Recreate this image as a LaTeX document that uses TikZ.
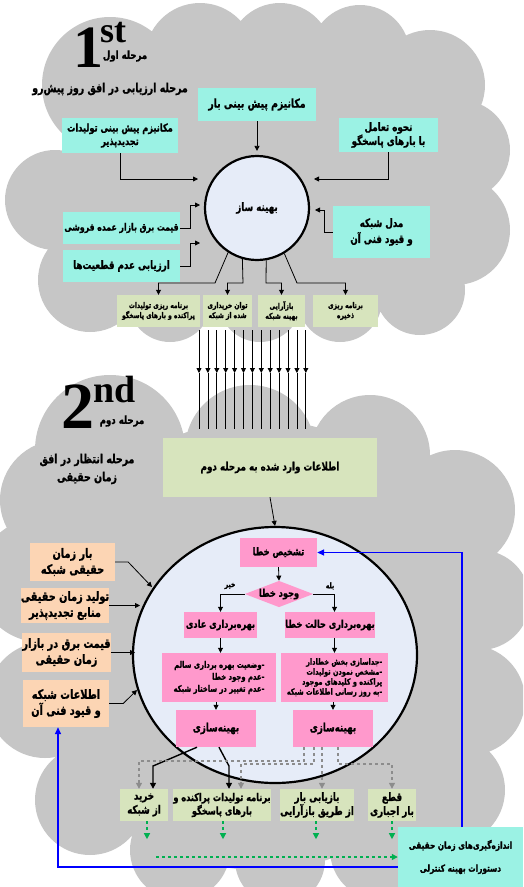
\documentclass[tikz,border=0pt]{standalone}
\usepackage{fontspec}
\setmainfont{Liberation Serif}
\newfontfamily\arabicfont[Script=Arabic, FakeStretch=0.76, FakeBold=1.1]{DejaVu Sans}
\TeXXeTstate=1
\usetikzlibrary{shapes.geometric,arrows.meta}
\newcommand\fa[1]{\beginR #1\endR}
\definecolor{cloudgray}{RGB}{198,198,198}
\definecolor{cyanbox}{RGB}{155,242,228}
\definecolor{greenbox}{RGB}{215,228,189}
\definecolor{pinkbox}{RGB}{255,153,204}
\definecolor{peachbox}{RGB}{252,213,180}
\definecolor{circfill}{RGB}{230,236,248}
\definecolor{arrowgreen}{RGB}{0,176,80}
\definecolor{dashgray}{RGB}{140,140,140}
\tikzset{
  base/.style={inner sep=0pt, align=center, font=\arabicfont\bfseries\fontsize{10.8}{13.5}\selectfont},
  sm/.style={font=\arabicfont\bfseries\fontsize{7.9}{10}\selectfont},
  lst/.style={font=\arabicfont\bfseries\fontsize{9}{12}\selectfont, align=right},
  big/.style={font=\arabicfont\bfseries\fontsize{11.5}{14}\selectfont},
  cy/.style={base, fill=cyanbox},
  gr/.style={base, fill=greenbox},
  pk/.style={base, fill=pinkbox},
  pc/.style={base, fill=peachbox, font=\arabicfont\bfseries\fontsize{12.8}{16}\selectfont},
  lbl/.style={inner sep=0pt, align=center, font=\arabicfont\bfseries\fontsize{11.3}{16}\selectfont},
  arr/.style={-{Triangle[length=5pt,width=5pt]}, line width=0.8pt},
  tarr/.style={-{Triangle[length=6pt,width=6pt]}, line width=1.4pt},
  garr/.style={-{Triangle[length=6pt,width=6pt]}, line width=1.2pt, dashgray, dashed},
  grarr/.style={-{Triangle[length=6pt,width=6pt]}, line width=1.2pt, arrowgreen, dashed},
  barr/.style={-{Triangle[length=7pt,width=6pt]}, line width=1.5pt, blue},
}
\begin{document}
\begin{tikzpicture}[x=1pt,y=-1pt]
\useasboundingbox (0,0) rectangle (523,887);
% clouds
\begin{scope}
\clip (0,0) rectangle (523,887);
\fill[cloudgray] (110,85) circle[radius=68] (200,58) circle[radius=55] (280,55) circle[radius=52]
  (360,55) circle[radius=50] (430,85) circle[radius=55] (460,150) circle[radius=50]
  (455,230) circle[radius=55] (420,290) circle[radius=45] (340,300) circle[radius=42]
  (260,300) circle[radius=42] (170,300) circle[radius=42] (90,280) circle[radius=52]
  (55,200) circle[radius=50] (260,180) ellipse[x radius=200, y radius=125];
\fill[cloudgray] (110,450) circle[radius=75] (250,450) circle[radius=65] (370,455) circle[radius=60]
  (455,510) circle[radius=60] (480,600) circle[radius=50] (470,700) circle[radius=55]
  (450,790) circle[radius=55] (380,850) circle[radius=50] (280,860) circle[radius=45]
  (180,850) circle[radius=50] (90,800) circle[radius=55] (45,700) circle[radius=58]
  (40,580) circle[radius=62] (60,500) circle[radius=60] (260,645) ellipse[x radius=225, y radius=225];
\end{scope}

% stage 1 titles
\node[font=\bfseries\fontsize{60}{60}\selectfont, anchor=base, inner sep=0] (one) at (88,67) {1};
\node[font=\bfseries\fontsize{36}{36}\selectfont, anchor=base west, inner sep=0] (st) at (100,42) {st};
\node[lbl] (s1) at (125,56) {\fa{مرحله اول}};
\node[lbl, font=\arabicfont\bfseries\fontsize{12.4}{14}\selectfont] (t1) at (110,89) {\fa{مرحله ارزیابی در افق روز پیش‌رو}};

% stage 1 boxes
\node[cy, big, font=\arabicfont\bfseries\fontsize{12.2}{14}\selectfont, minimum width=118, minimum height=33] (b1) at (257,104.5) {\fa{مکانیزم پیش بینی بار}};
\node[cy, minimum width=116, minimum height=35] (b2) at (120,135.5) {\fa{مکانیزم پیش بینی تولیدات}\\\fa{تجدیدپذیر}};
\node[cy, big, minimum width=99, minimum height=34] (b3) at (388.5,135) {\fa{نحوه تعامل}\\\fa{با بارهای پاسخگو}};
\node[cy, font=\arabicfont\bfseries\fontsize{10.2}{13}\selectfont, minimum width=117, minimum height=32] (b4) at (121.5,228) {\fa{قیمت برق بازار عمده فروشی}};
\node[cy, big, minimum width=117, minimum height=32] (b5) at (121.5,266) {\fa{ارزیابی عدم قطعیت‌ها}};
\node[cy, big, minimum width=97, minimum height=52, font=\arabicfont\bfseries\fontsize{11.5}{16}\selectfont] (b6) at (381.5,232) {\fa{مدل شبکه}\\\fa{و قیود فنی آن}};
\node[base, big, circle, draw, line width=2.2pt, fill=circfill, minimum size=104] (opt) at (257,208) {\fa{بهینه ساز}};

\node[gr, sm, minimum width=83, minimum height=32] (o1) at (158.5,311) {\fa{برنامه ریزی تولیدات}\\\fa{پراکنده و بارهای پاسخگو}};
\node[gr, sm, minimum width=49, minimum height=32] (o2) at (227.5,311) {\fa{توان خریداری}\\\fa{شده از شبکه}};
\node[gr, sm, minimum width=47, minimum height=32] (o3) at (281.5,311) {\fa{بازآرایی}\\\fa{بهینه شبکه}};
\node[gr, sm, minimum width=65, minimum height=32] (o4) at (345.5,311) {\fa{برنامه ریزی}\\\fa{ذخیره}};

% stage 1 connectors
\coordinate (e2) at (198,179);
\coordinate (e3) at (314,179);
\coordinate (e4) at (200,205);
\coordinate (e5) at (200,243);
\coordinate (e6) at (315,210);
\draw[arr, shorten >=4pt] (b1.south) -- (opt.north);
\draw[arr] (b2.south) |- (e2);
\draw[arr] (b3.south) |- (e3);
\draw[arr] (b4.east) -- ++(10,0) |- (e4);
\draw[arr] (b5.east) -- ++(10,0) |- (e5);
\draw[arr] (b6.west) -- ++(-8,0) |- (e6);
\coordinate (k1) at (215,283);
\coordinate (k2) at (243,283);
\coordinate (k3) at (266,283);
\coordinate (k4) at (297,283);
\draw[arr] (opt.237) -- (k1) -| (o1.north);
\draw[arr] (opt.254) -- (k2) -| (o2.north);
\draw[arr] (opt.280) -- (k3) -| (o3.north);
\draw[arr] (opt.301) -- (k4) -| (o4.north);

% bundle
\foreach \i in {0,...,12} {
  \draw[arr] ({199+8.9*\i},330) -- ({199+8.9*\i},373);
  \draw[line width=0.8pt] ({199+8.9*\i},373) -- ({199+8.9*\i},429);
}

% stage 2 titles
\node[font=\bfseries\fontsize{66}{66}\selectfont, anchor=base, inner sep=0] (two) at (78,428) {2};
\node[font=\bfseries\fontsize{38}{38}\selectfont, anchor=base west, inner sep=0] (nd) at (93,402) {nd};
\node[lbl] (s2) at (122,421) {\fa{مرحله دوم}};
\node[lbl, font=\arabicfont\bfseries\fontsize{12.4}{18}\selectfont] (t2) at (87,469) {\fa{مرحله انتظار در افق}\\\fa{زمان حقیقی}};

\node[gr, big, minimum width=214, minimum height=59] (info) at (270,467.5) {\fa{اطلاعات وارد شده به مرحله دوم}};

\node[ellipse, draw, line width=2.2pt, fill=circfill, minimum width=284, minimum height=256, inner sep=0] (big) at (275,655) {};
\draw[arr] (info.south) -- (big.north);

\node[pk, minimum width=77, minimum height=29] (diag) at (278.5,552.5) {\fa{تشخیص خطا}};
\node[base, diamond, fill=pinkbox, shape aspect=2.6, minimum width=68, minimum height=26] (dia) at (279,594) {\fa{وجود خطا}};
\node[pk, minimum width=73, minimum height=26] (normal) at (220.5,625) {\fa{بهره‌برداری عادی}};
\node[pk, minimum width=80, minimum height=26] (fault) at (330,625) {\fa{بهره‌برداری حالت خطا}};
\node[pk, lst, minimum width=114, minimum height=49] (listL) at (219,677.5) {\fa{-وضعیت بهره برداری سالم}\\\fa{-عدم وجود خطا}\\\fa{-عدم تغییر در ساختار شبکه}};
\node[pk, lst, font=\arabicfont\bfseries\fontsize{8.6}{10}\selectfont, minimum width=107, minimum height=49] (listR) at (334.5,677.5) {\fa{-جداسازی بخش خطادار}\\\fa{-مشخص نمودن تولیدات}\\\fa{پراکنده و کلیدهای موجود}\\\fa{-به روز رسانی اطلاعات شبکه}};
\node[pk, big, minimum width=80, minimum height=37] (optL) at (216,728.5) {\fa{بهینه‌سازی}};
\node[pk, big, minimum width=80, minimum height=37] (optR) at (333,728.5) {\fa{بهینه‌سازی}};
\node[lbl, font=\arabicfont\bfseries\fontsize{8}{8}\selectfont] (no) at (230,586) {\fa{خیر}};
\node[lbl, font=\arabicfont\bfseries\fontsize{8}{8}\selectfont] (yes) at (330,586) {\fa{بله}};

\draw[arr] (diag.south) -- (dia.north);
\draw[arr] (dia.west) -| (normal.north);
\draw[arr] (dia.east) -| (listR.north |- fault.north);
\draw[arr] (normal.south) -- (listL.north -| normal.south);
\draw[arr] (listR.north |- fault.south) -- (listR.north);
\draw[arr] (optL.north |- listL.south) -- (optL.north);
\draw[arr] (optR.north |- listR.south) -- (optR.north);

% peach inputs
\node[pc, minimum width=85, minimum height=38] (p1) at (72.5,562) {\fa{بار زمان}\\\fa{حقیقی شبکه}};
\node[pc, minimum width=84, minimum height=35] (p2) at (65,605.5) {\fa{تولید زمان حقیقی}\\\fa{منابع تجدیدپذیر}};
\node[pc, minimum width=83, minimum height=39] (p3) at (66.5,652.5) {\fa{قیمت برق در بازار}\\\fa{زمان حقیقی}};
\node[pc, minimum width=86, minimum height=47] (p4) at (66,703.5) {\fa{اطلاعات شبکه}\\\fa{و قیود فنی آن}};
\coordinate (q1) at (152,587);
\coordinate (q2) at (140,605.5);
\coordinate (q3) at (135,652.5);
\coordinate (q4) at (137,690);
\draw[arr] (p1.east) -- ++(13,0) -- (q1);
\draw[arr] (p2.east) -- (q2);
\draw[arr] (p3.east) -- (q3);
\draw[arr] (p4.east) -- ++(14,0) -- (q4);

% bottom outputs
\node[gr, big, minimum width=48, minimum height=32] (g1) at (144,805) {\fa{خرید}\\\fa{از شبکه}};
\node[gr, minimum width=96, minimum height=32] (g2) at (222,805) {\fa{برنامه تولیدات پراکنده و}\\\fa{بارهای پاسخگو}};
\node[gr, big, minimum width=72, minimum height=32] (g3) at (317,805) {\fa{بازیابی بار}\\\fa{از طریق بازآرایی}};
\node[gr, big, minimum width=48, minimum height=32] (g4) at (392,805) {\fa{قطع}\\\fa{بار اجباری}};
\node[cy, minimum width=125, minimum height=60, font=\arabicfont\bfseries\fontsize{9.7}{11}\selectfont] (fin) at (460.5,857) {\fa{اندازه‌گیری‌های زمان حقیقی}\\[12pt]\fa{دستورات بهینه کنترلی}};

\coordinate (kb1) at (153,766);
\coordinate (kb2) at (229,766);
\draw[tarr] ([xshift=-19pt]optL.south) -- (kb1) -- (kb1 |- g1.north);
\draw[tarr] ([xshift=3pt]optL.south) -- (kb2) -- (kb2 |- g2.north);

\coordinate (gd1) at (139,761);
\coordinate (gd2) at (241,764);
\coordinate (gd4) at (392,764);
\draw[garr] ([xshift=-29pt]optR.south) |- (gd1) -- (gd1 |- g1.north);
\draw[garr] ([xshift=-19pt]optR.south) |- (gd2) -- (gd2 |- g2.north);
\draw[garr] ([xshift=-11pt]optR.south) -- ([xshift=-11pt]optR.south |- g3.north);
\draw[garr] ([xshift=5pt]optR.south) |- (gd4) -- (gd4 |- g4.north);

\foreach \g/\dx in {g1/3,g2/1,g3/-1,g4/0} {
  \draw[grarr] ([xshift=\dx pt]\g.south) -- ++(0,18);
}
\coordinate (gs) at (156,857);
\draw[grarr] (gs) -- (fin.west);

% blue feedback
\coordinate (bl1) at (462,827);
\coordinate (bl2) at (398,867);
\draw[barr] (bl1) |- (diag.east);
\draw[barr] (bl2) -| ([xshift=-8pt]p4.south);
\end{tikzpicture}
\end{document}
